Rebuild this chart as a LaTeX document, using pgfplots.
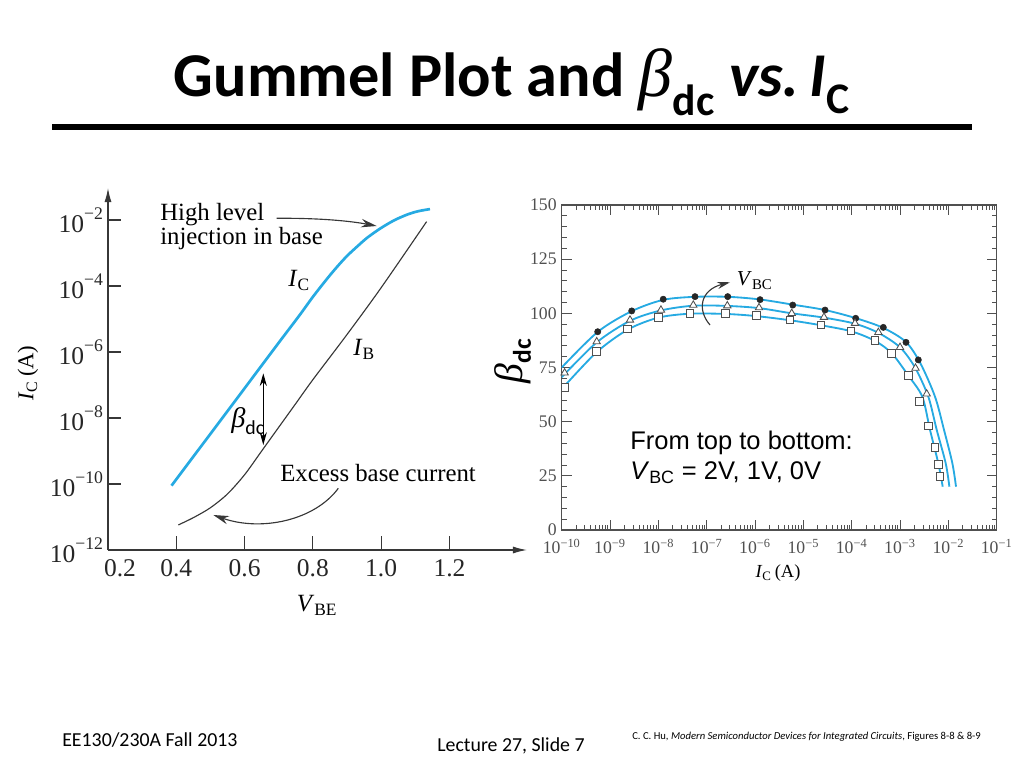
\documentclass[border=0pt]{standalone}
\usepackage{fontspec}
\setmainfont{Liberation Serif}
\newfontfamily\calibri{Carlito}
\newfontfamily\arial{Liberation Sans}
\usepackage{pgfplots}
\pgfplotsset{compat=1.18}
\usetikzlibrary{arrows.meta}
\definecolor{hublue}{RGB}{38,170,226}
\definecolor{axgray}{RGB}{55,55,55}
\definecolor{rgray}{RGB}{80,80,80}
\newcommand{\ex}[1]{10\raisebox{0.5em}{\fontsize{12.5}{13}\selectfont #1}}
\begin{document}
\begin{tikzpicture}[x=0.70576pt,y=0.70576pt]
\path[use as bounding box] (0,0) rectangle (1024,768);
% ---- title and rule
\node[anchor=base,inner sep=0pt] at (512,671) {\calibri\bfseries\fontsize{44}{50}\selectfont Gummel Plot and {\rmfamily\mdseries\itshape\fontsize{48}{50}\selectfont β}\textsubscript{dc} \textit{vs.}\,\textit{I}\textsubscript{C}};
\draw[line width=3.6pt] (52,641) -- (972,641);
% ---- left axis (Gummel plot)
\begin{axis}[
  at={(76.222pt,153.856pt)}, anchor=south west,
  scale only axis, width=295.7pt, height=255.5pt,
  xmin=0.2, xmax=1.427, ymode=log, ymin=1e-12, ymax=0.0933,
  axis lines=left,
  axis line style={draw=axgray, line width=0.9pt, -{Latex[length=10pt,width=5pt]}},
  tick align=inside, major tick length=9.5pt,
  xtick style={draw=axgray, line width=0.8pt},
  ytick style={draw=axgray, line width=0.8pt},
  xminorticks=false, yminorticks=false,
  xtick={0.4,0.6,0.8,1.0,1.2},
  xticklabels={0.4,0.6,0.8,1.0,1.2},
  ytick={1e-12,1e-10,1e-8,1e-6,1e-4,1e-2},
  yticklabels={\ex{−12},\ex{−10},\ex{−8},\ex{−6},\ex{−4},\ex{−2}},
  ticklabel style={font=\fontsize{18}{20}\selectfont, text=black!85},
  xticklabel style={yshift=-3pt},
  clip=false,
]
\addplot[hublue, line width=1.9pt, smooth] coordinates {
(0.386,8.91e-11) (0.50,3.31e-9) (0.60,7.94e-8) (0.70,1.91e-6) (0.76,1.26e-5)
(0.80,4.68e-5) (0.84,1.58e-4) (0.87,3.72e-4) (0.90,8.13e-4) (0.93,1.58e-3)
(0.96,2.95e-3) (1.00,5.75e-3) (1.04,1.00e-2) (1.08,1.51e-2) (1.11,1.86e-2) (1.143,2.14e-2)};
\addplot[axgray, line width=0.8pt, smooth] coordinates {
(0.406,5.75e-12) (0.45,9.55e-12) (0.50,1.91e-11) (0.55,5.01e-11) (0.60,1.91e-10)
(0.65,1.00e-9) (0.70,5.25e-9) (0.75,2.75e-8) (0.80,1.45e-7) (0.90,3.39e-6)
(1.00,8.91e-5) (1.133,8.91e-3)};
\end{axis}
\foreach \xx in {176.3,244.6,312.9,381.2,449.5} {\draw[axgray, line width=0.8pt] (\xx,218) -- (\xx,231.5);}
\node[inner sep=0pt, text=black!85] at (120,199.5) {\fontsize{18}{20}\selectfont 0.2};
% left labels and annotations
\node[rotate=90,inner sep=0pt] at (28,395) {\fontsize{16}{18}\selectfont \textit{I}\textsubscript{C}\,(A)};
\node[anchor=base,inner sep=0pt] at (317,156) {\fontsize{17.5}{20}\selectfont \textit{V}\textsubscript{BE}};
\begin{scope}[every node/.style={inner sep=0pt}, font=\fontsize{17.5}{20}\selectfont]
\node[anchor=base west] at (160,547.3) {High level};
\node[anchor=base west] at (160,523) {injection in base};
\node[anchor=base west] at (288,481) {\textit{I}\textsubscript{C}};
\node[anchor=base west] at (353,412) {\textit{I}\textsubscript{B}};
\node[anchor=base west] at (280,286.3) {Excess base current};
\end{scope}
\draw[axgray, line width=0.8pt, -{Stealth[length=11pt,width=6pt]}] (276.7,549.7) .. controls (320,550) and (350,547) .. (376.7,542);
\draw[axgray, line width=0.8pt, -{Stealth[length=11pt,width=6pt]}] (338.3,279.7) .. controls (315,248) and (262,236) .. (213.3,253);
\draw[black, line width=0.8pt, {Stealth[length=9pt,width=5pt]}-{Stealth[length=9pt,width=5pt]}] (263.3,394.7) -- (263.3,323);
\node[anchor=base west,inner sep=0pt] at (231,340) {\fontsize{20}{22}\selectfont \textit{β}\raisebox{-0.5ex}{\calibri\fontsize{14}{16}\selectfont dc}};
% ---- right axis (beta vs IC)
\begin{axis}[
  at={(396.43pt,167.97pt)}, anchor=south west,
  scale only axis, width=307pt, height=229.4pt,
  xmode=log, xmin=1e-10, xmax=1e-1, ymin=0, ymax=150,
  axis line style={draw=rgray, line width=0.8pt},
  tick align=inside, xtick pos=both, ytick pos=both,
  major tick length=7pt, minor tick length=3.5pt,
  tick style={draw=rgray, line width=0.6pt},
  xtick={1e-10,1e-9,1e-8,1e-7,1e-6,1e-5,1e-4,1e-3,1e-2,1e-1},
  xticklabels={10\textsuperscript{−10},10\textsuperscript{−9},10\textsuperscript{−8},10\textsuperscript{−7},10\textsuperscript{−6},10\textsuperscript{−5},10\textsuperscript{−4},10\textsuperscript{−3},10\textsuperscript{−2},10\textsuperscript{−1}},
  ytick={0,25,50,75,100,125,150},
  yticklabels={0,25,50,75,100,125,150},
  minor y tick num=4,
  ticklabel style={font=\fontsize{12.5}{14}\selectfont, text=rgray},
  xticklabel style={yshift=-3pt},
]
\addplot[hublue, line width=1.3pt, smooth] coordinates {
(1e-10,75) (5.62e-10,91.5) (2.82e-9,101) (1.26e-8,106.2) (5.62e-8,107.6) (2.82e-7,107.6)
(1.26e-6,106.4) (6.03e-6,104) (2.82e-5,101.5) (1.20e-4,97.8) (4.47e-4,93.3) (1.32e-3,86.8)
(2.63e-3,77) (5.30e-3,61.5) (8.13e-3,46.2) (1.21e-2,30.8) (1.44e-2,20)};
\addplot[hublue, line width=1.3pt, smooth] coordinates {
(1e-10,70.5) (5.25e-10,86.5) (2.57e-9,96.5) (1.12e-8,101.3) (5.25e-8,103.5) (2.69e-7,103.4)
(1.20e-6,102.4) (5.75e-6,100) (2.69e-5,98) (1.17e-4,95.2) (3.55e-4,91) (1e-3,84.3)
(2.04e-3,75) (3.85e-3,61.5) (5.74e-3,46.2) (8.81e-3,30.8) (1.05e-2,20)};
\addplot[hublue, line width=1.3pt, smooth] coordinates {
(1e-10,65) (5.25e-10,82) (2.34e-9,92.5) (1e-8,98) (4.47e-8,99.8) (2.51e-7,99.7)
(1.07e-6,98.7) (5.25e-6,96.8) (2.29e-5,94.5) (9.77e-5,91.7) (3.02e-4,87.3) (6.76e-4,81.5)
(1.48e-3,71.3) (2.89e-3,61.5) (4.17e-3,46.2) (6.19e-3,30.8) (7.64e-3,20)};
\addplot[only marks, mark=*, mark size=2.2pt, mark options={fill=black!85, draw=black!85}] coordinates {
(5.56e-10,91.5) (2.81e-9,101.1) (1.26e-8,106.5) (5.73e-8,107.7) (2.72e-7,107.7) (1.27e-6,106.3)
(6.03e-6,103.8) (2.81e-5,101.5) (1.21e-4,97.7) (4.51e-4,93.5) (1.33e-3,86.6) (2.39e-3,78.5)};
\addplot[only marks, mark=triangle*, mark size=3pt, mark options={fill=white, draw=rgray, line width=0.6pt}] coordinates {
(1.15e-10,72.5) (5.30e-10,86.9) (2.59e-9,96.9) (1.13e-8,101.5) (5.28e-8,103.8) (2.67e-7,103.5)
(1.21e-6,102.6) (5.74e-6,100.0) (2.67e-5,98.2) (1.17e-4,95.4) (3.56e-4,91.2) (1.00e-3,84.3)
(2.09e-3,74.7) (3.56e-3,62.8)};
\addplot[only marks, mark=square*, mark size=2.7pt, mark options={fill=white, draw=rgray, line width=0.6pt}] coordinates {
(1.17e-10,65.9) (5.30e-10,82.3) (2.32e-9,92.8) (9.98e-9,98.2) (4.52e-8,100.0) (2.47e-7,99.8)
(1.08e-6,98.9) (5.30e-6,96.9) (2.32e-5,94.6) (9.70e-5,91.8) (3.03e-4,87.4) (6.73e-4,81.5)
(1.49e-3,71.3) (2.51e-3,59.2) (3.85e-3,48.0) (5.30e-3,38.2) (6.21e-3,30.3) (6.73e-3,24.6)};
\end{axis}
% right labels and annotations
\node[anchor=base,inner sep=0pt] at (778,190) {\fontsize{13}{15}\selectfont \textit{I}\textsubscript{C}\,(A)};
\node[rotate=90,inner sep=0pt] at (513,407) {\fontsize{28}{30}\selectfont \textit{β}\raisebox{-0.45ex}{\calibri\bfseries\fontsize{18}{20}\selectfont dc}};
\draw[axgray, line width=0.8pt, -{Stealth[length=9pt,width=5pt]}] (710,443) .. controls (697,458) and (700,478) .. (730,485.7);
\node[anchor=base west,inner sep=0pt] at (736.7,482) {\fontsize{15}{17}\selectfont \textit{V}\textsubscript{BC}};
\node[anchor=base west,inner sep=0pt] at (630,318) {\arial\fontsize{18}{20}\selectfont From top to bottom:};
\node[anchor=base west,inner sep=0pt] at (630,288.5) {\arial\fontsize{18}{20}\selectfont \textit{V}\textsubscript{BC} = 2V, 1V, 0V};
% ---- footer
\node[anchor=base west,inner sep=0pt] at (62,21) {\calibri\fontsize{14}{16}\selectfont EE130/230A Fall 2013};
\node[anchor=base,inner sep=0pt] at (511,17) {\calibri\fontsize{14}{16}\selectfont Lecture 27, Slide 7};
\node[anchor=base west,inner sep=0pt] at (632,28) {\calibri\fontsize{7.5}{9}\selectfont C. C. Hu, \textit{Modern Semiconductor Devices for Integrated Circuits}, Figures 8-8 \& 8-9};
\end{tikzpicture}
\end{document}
